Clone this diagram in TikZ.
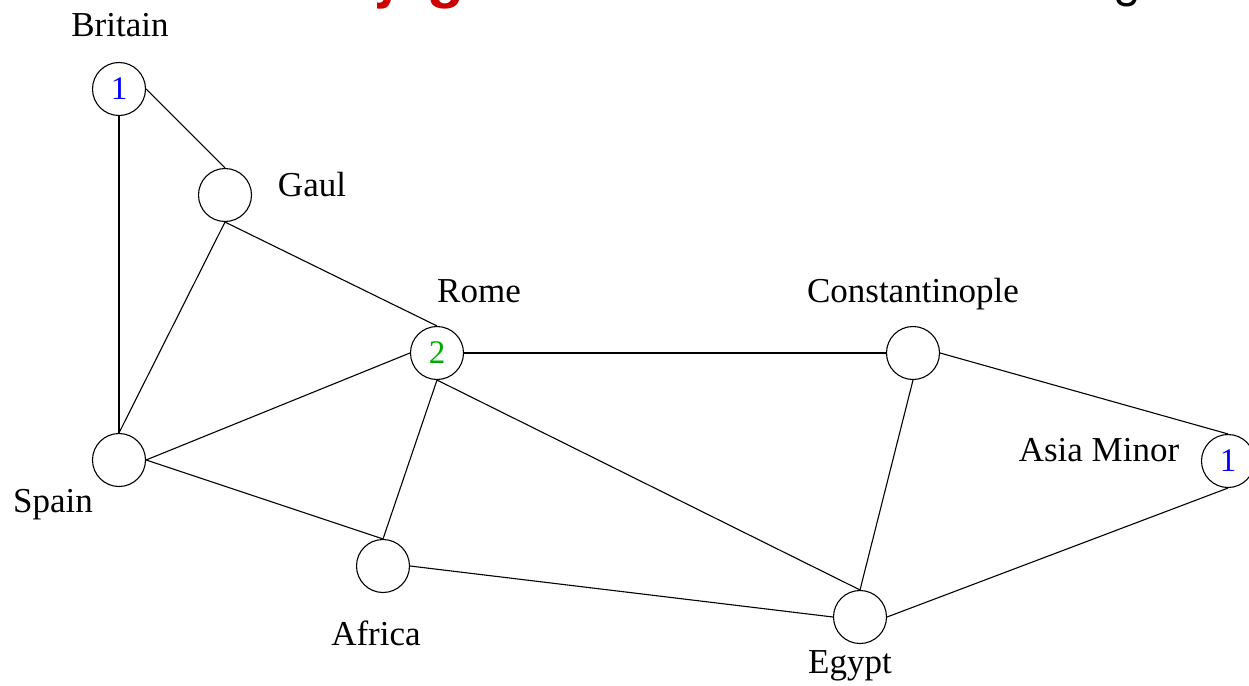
\documentclass[tikz,border=0pt]{standalone}
\usepackage{fontspec}
\setmainfont{Liberation Serif}
\newfontfamily\heros{TeX Gyre Heros}
\definecolor{titlered}{RGB}{204,0,0}
\definecolor{numblue}{RGB}{0,0,255}
\definecolor{numgreen}{RGB}{0,170,0}
\begin{document}
\begin{tikzpicture}[x=1pt,y=-1pt,
  region/.style={circle,draw,line width=1.1pt,minimum size=53pt,inner sep=0pt,
    font=\fontsize{33}{40}\selectfont},
  lbl/.style={anchor=base,inner sep=0pt,font=\fontsize{35}{42}\selectfont},
  edge/.style={line width=1.1pt},
  titlebit/.style={anchor=base west,inner sep=0pt}]
\useasboundingbox (0,0) rectangle (1249,685);
% cut-off title fragments
\node[titlebit,text=titlered,font=\heros\bfseries\fontsize{58}{58}\selectfont] (t1) at (372,-3) {y};
\node[titlebit,text=titlered,font=\heros\bfseries\fontsize{58}{58}\selectfont] (t2) at (428,-3) {g};
\node[titlebit,text=black,font=\heros\fontsize{48}{48}\selectfont] (t3) at (1114,-3) {g};
% regions
\node[region,text=numblue] (britain) at (119,89) {1};
\node[region] (gaul) at (225,195) {};
\node[region,text=numgreen] (rome) at (437,353) {2};
\node[region] (const) at (913,353) {};
\node[region,text=numblue] (asia) at (1228,461) {1};
\node[region] (spain) at (119,460) {};
\node[region] (africa) at (383,566) {};
\node[region] (egypt) at (860,617) {};
% labels
\node[lbl] (lbritain) at (120,37) {Britain};
\node[lbl] (lgaul) at (312,196) {Gaul};
\node[lbl] (lrome) at (479,302) {Rome};
\node[lbl] (lconst) at (913,302) {Constantinople};
\node[lbl] (lasia) at (1099,461) {Asia Minor};
\node[lbl] (lspain) at (53,512) {Spain};
\node[lbl] (lafrica) at (376,645) {Africa};
\node[lbl] (legypt) at (850,673) {Egypt};
% edges
\draw[edge] (britain.east) -- (gaul.north);
\draw[edge] (britain.south) -- (spain.north);
\draw[edge] (gaul.south) -- (spain.north);
\draw[edge] (gaul.south) -- (rome.north);
\draw[edge] (spain.east) -- (rome.west);
\draw[edge] (spain.east) -- (africa.north);
\draw[edge] (rome.south) -- (africa.north);
\draw[edge] (rome.east) -- (const.west);
\draw[edge] (rome.south) -- (egypt.north);
\draw[edge] (africa.east) -- (egypt.west);
\draw[edge] (const.south) -- (egypt.north);
\draw[edge] (const.east) -- (asia.north);
\draw[edge] (asia.south) -- (egypt.east);
\end{tikzpicture}
\end{document}
